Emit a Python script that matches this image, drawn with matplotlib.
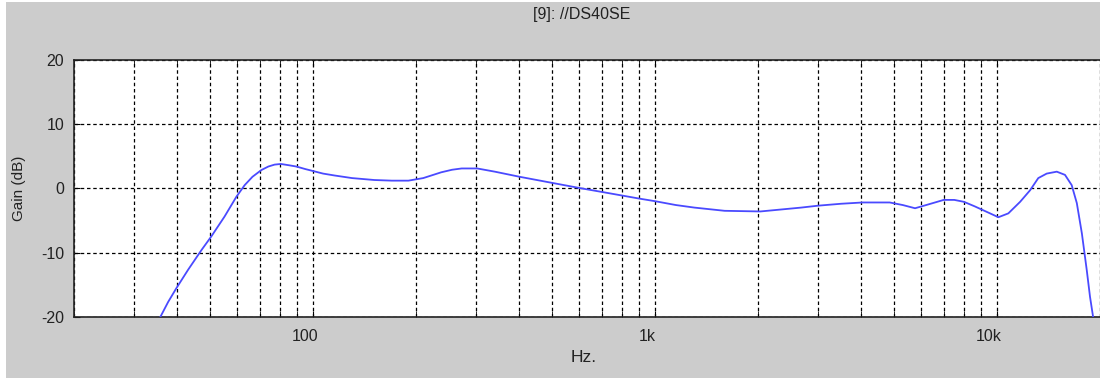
import matplotlib.pyplot as plt
import matplotlib.transforms as mtransforms
from matplotlib.patches import Rectangle
from matplotlib.ticker import FixedLocator, LogLocator, NullFormatter

plt.rcParams["axes.unicode_minus"] = False

# measured response, Hz / dB
freq_hz = [35.8, 37.7, 39.8, 43.1, 47.2, 50.4, 55.1, 59.7, 63.1, 66.5, 70.6,
           74.0, 77.2, 80.5, 85.0, 89.4, 95.0, 100, 107, 115.7, 130, 151, 170,
           190, 210, 237, 255, 272, 302, 340, 402, 506, 609, 706, 900, 1000,
           1150, 1304, 1598, 2033, 2672, 2997, 3500, 4047, 4853, 5300, 5758,
           6300, 6984, 7500, 8000, 8600, 9540, 10090, 10790, 11680, 12490,
           13200, 13970, 14950, 15800, 16530, 17110, 17700, 18290, 18700,
           19050, 19200]
gain_db = [-20.0, -17.7, -15.6, -12.7, -9.6, -7.5, -4.4, -1.3, 0.5, 1.8, 2.85,
           3.4, 3.7, 3.8, 3.6, 3.4, 3.0, 2.7, 2.3, 2.0, 1.6, 1.3, 1.2, 1.2, 1.6,
           2.5, 2.9, 3.1, 3.1, 2.6, 1.8, 0.8, 0.0, -0.6, -1.6, -2.0, -2.6,
           -3.0, -3.5, -3.6, -3.0, -2.7, -2.4, -2.2, -2.2, -2.6, -3.1, -2.5,
           -1.8, -1.8, -2.1, -2.8, -3.9, -4.5, -3.9, -2.1, -0.3, 1.6, 2.3,
           2.6, 2.1, 0.5, -2.3, -7.0, -12.7, -16.9, -19.7, -21.0]

x_ticks = [100, 1000, 10000]
x_tick_labels = ["100", "1k", "10k"]
y_ticks = [-20, -10, 0, 10, 20]

W, H = 1100, 378
fig = plt.figure(figsize=(W / 100, H / 100), dpi=100, facecolor="white")
fig.patches.append(Rectangle((6 / W, 0), 1 - 6 / W, 1 - 2 / H,
                             transform=fig.transFigure, facecolor="#cccccc",
                             edgecolor="none", zorder=-10))

ax = fig.add_axes([74 / W, 1 - 316.7 / H, 1 - 74 / W, (316.7 - 60) / H])
ax.set_facecolor("white")
ax.plot(freq_hz, gain_db, color="#4a4aff", lw=1.3, zorder=3,
        solid_joinstyle="round")

ax.set_xscale("log")
ax.set_xlim(20, 20000)
ax.set_ylim(-20, 20)
ax.xaxis.set_major_locator(FixedLocator(x_ticks))
ax.set_xticklabels(x_tick_labels)
ax.xaxis.set_minor_locator(LogLocator(base=10, subs=range(2, 10), numticks=20))
ax.xaxis.set_minor_formatter(NullFormatter())
ax.set_yticks(y_ticks)

dash = dict(color="black", lw=0.9, linestyle=(0, (2.8, 2.2)))
ax.grid(True, which="major", axis="both", **dash)
ax.grid(True, which="minor", axis="x", **dash)

ax.tick_params(axis="both", which="both", direction="in", top=True,
               right=False, labelsize=11.5, colors="black", length=4)
ax.tick_params(axis="x", pad=9)
ax.tick_params(axis="y", pad=7)

# x labels sit a little left of their ticks
shift = mtransforms.ScaledTranslation(-8 / 100, 0, fig.dpi_scale_trans)
for lbl in ax.get_xticklabels():
    lbl.set_transform(lbl.get_transform() + shift)

for side in ("top", "bottom", "left"):
    ax.spines[side].set_color("#222222")
    ax.spines[side].set_linewidth(1.2)
ax.spines["right"].set_color("#bbbbbb")

for lbl in ax.get_xticklabels() + ax.get_yticklabels():
    lbl.set_fontfamily("Liberation Sans")
    lbl.set_color("#222222")

fig.text(582 / W, 1 - 15 / H, "[9]: //DS40SE", ha="center", va="center",
         fontsize=11.5, family="Liberation Sans", color="#222222")
fig.text(584 / W, 1 - 358 / H, "Hz.", ha="center", va="center",
         fontsize=12.5, family="Liberation Sans", color="#222222")
fig.text(19 / W, 1 - 188 / H, "Gain (dB)", ha="center", va="center",
         rotation=90, fontsize=11, family="Liberation Sans", color="#222222")

fig.savefig("out.png", dpi=100, facecolor=fig.get_facecolor())
